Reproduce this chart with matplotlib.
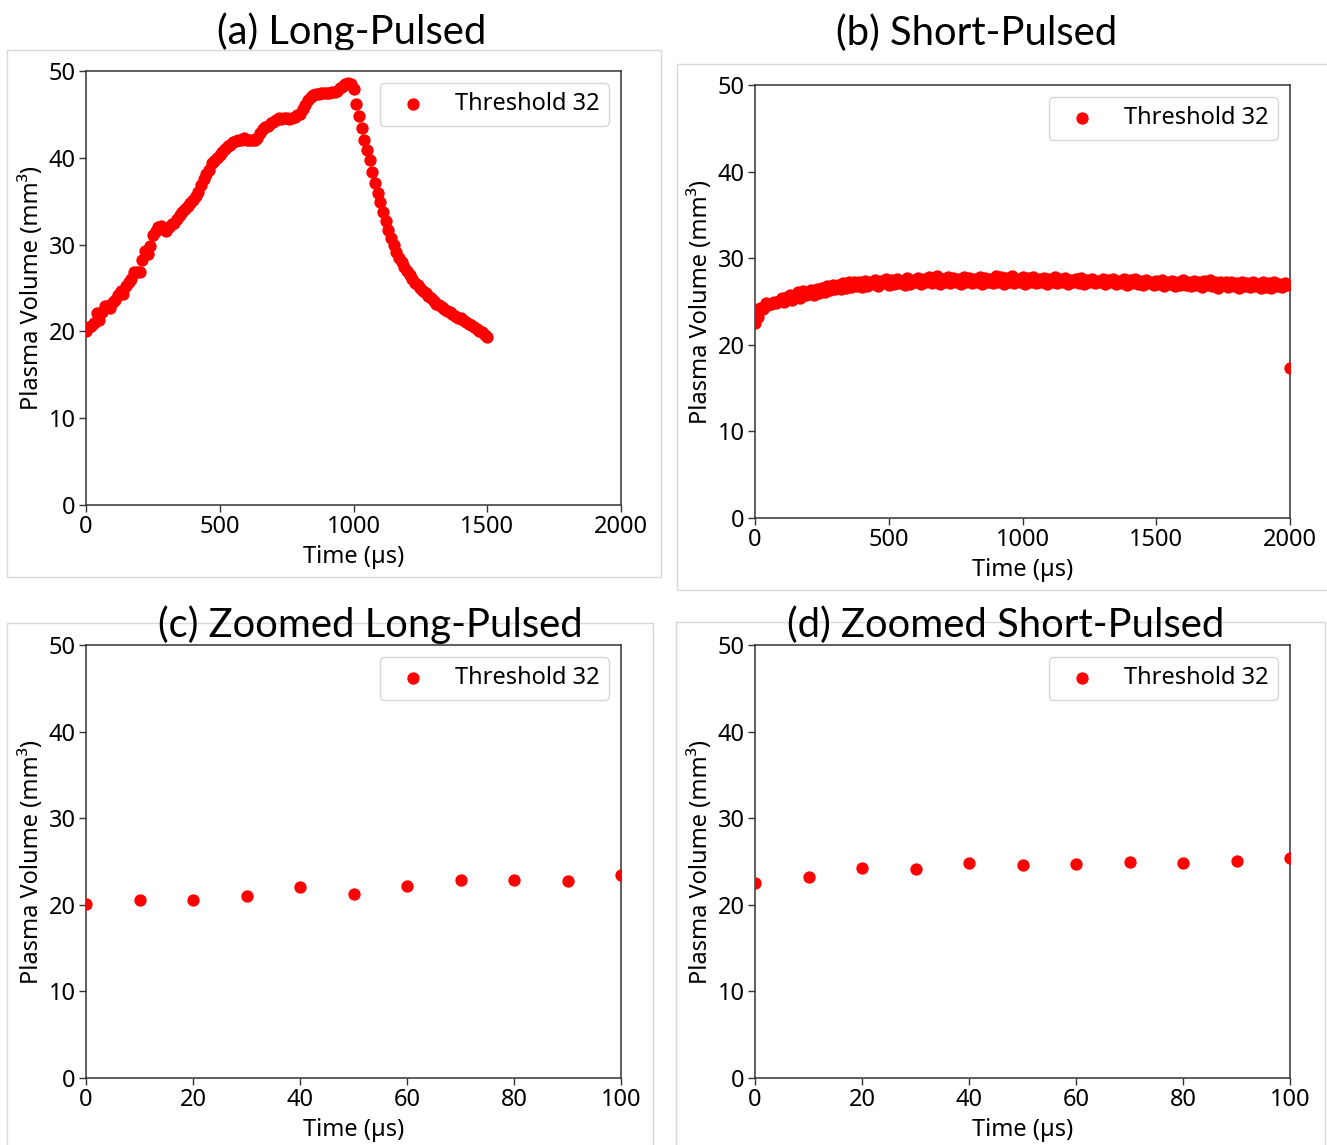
import matplotlib
matplotlib.use("Agg")
import matplotlib.pyplot as plt
from matplotlib.patches import Rectangle

plt.rcParams['font.family'] = ['Noto Sans', 'DejaVu Sans']

# Time axis (µs), 10 µs sampling
time_long = list(range(0, 1501, 10))
time_short = list(range(0, 2001, 10))

# Plasma volume (mm³), long-pulsed discharge
volume_long = [
    20.1, 20.5, 20.6, 21.0, 22.1, 21.3, 22.2, 22.9, 22.9, 22.7,
    23.4, 23.6, 24.2, 24.6, 24.3, 25.2, 25.7, 26.0, 26.9, 26.9,
    26.9, 28.2, 29.3, 28.9, 29.8, 31.1, 31.6, 32.0, 32.1, 31.8,
    31.6, 32.0, 32.4, 32.5, 33.0, 33.4, 33.8, 34.1, 34.5, 34.8,
    35.1, 35.6, 36.1, 36.9, 37.6, 38.1, 38.6, 39.4, 39.6, 40.0,
    40.3, 40.7, 41.0, 41.4, 41.5, 41.8, 41.9, 42.0, 42.1, 42.3,
    42.1, 42.0, 42.1, 42.0, 42.3, 42.8, 43.3, 43.5, 43.7, 44.0,
    44.1, 44.4, 44.6, 44.5, 44.6, 44.6, 44.5, 44.6, 44.7, 44.9,
    45.1, 45.6, 46.1, 46.7, 47.0, 47.2, 47.3, 47.3, 47.5, 47.5,
    47.5, 47.5, 47.6, 47.6, 47.7, 48.0, 48.3, 48.5, 48.6, 48.5,
    47.9, 46.2, 44.8, 43.4, 42.1, 40.9, 39.7, 38.4, 37.1, 36.0,
    34.9, 33.7, 32.7, 31.7, 30.8, 30.0, 29.2, 28.5, 28.0, 27.4,
    27.0, 26.5, 26.0, 25.6, 25.3, 25.0, 24.7, 24.4, 24.1, 23.8,
    23.5, 23.2, 23.0, 22.8, 22.6, 22.4, 22.2, 22.0, 21.8, 21.6,
    21.5, 21.3, 21.1, 20.9, 20.7, 20.5, 20.3, 20.1, 19.9, 19.6,
    19.3,
]

# Plasma volume (mm³), short-pulsed discharge
volume_short = [
    22.5, 23.2, 24.2, 24.1, 24.8, 24.6, 24.7, 24.9, 24.8, 25.1,
    25.4, 24.9, 25.5, 25.8, 25.2, 25.6, 26.1, 25.4, 26.2, 25.7,
    25.9, 26.3, 25.8, 26.5, 26.0, 26.6, 26.1, 26.8, 26.3, 26.9,
    26.4, 26.9, 26.5, 27.1, 26.6, 27.2, 26.7, 27.3, 26.8, 27.2,
    26.7, 27.4, 26.8, 27.3, 27.0, 27.5, 26.8, 27.4, 27.1, 27.6,
    26.9, 27.5, 27.0, 27.6, 27.1, 27.4, 26.9, 27.7, 27.0, 27.5,
    27.2, 27.7, 27.0, 27.6, 27.2, 27.8, 27.1, 27.5, 27.9, 27.0,
    27.6, 27.2, 27.8, 27.1, 27.7, 27.3, 27.6, 27.0, 27.8, 27.2,
    27.7, 27.1, 27.6, 27.3, 27.8, 27.0, 27.7, 27.2, 27.6, 27.1,
    27.9, 27.3, 27.8, 27.0, 27.7, 27.2, 27.9, 27.1, 27.6, 27.3,
    27.8, 27.0, 27.7, 27.2, 27.8, 27.1, 27.6, 27.3, 27.7, 27.0,
    27.6, 27.2, 27.8, 27.1, 27.6, 27.3, 27.7, 27.0, 27.5, 27.2,
    27.6, 27.1, 27.7, 27.0, 27.5, 27.2, 27.6, 27.1, 27.4, 27.3,
    27.6, 27.0, 27.5, 27.2, 27.6, 27.0, 27.4, 27.1, 27.6, 26.9,
    27.5, 27.1, 27.6, 27.0, 27.4, 26.9, 27.5, 27.1, 27.3, 26.9,
    27.4, 27.0, 27.5, 26.8, 27.3, 27.0, 27.4, 26.8, 27.3, 26.9,
    27.5, 26.9, 27.3, 26.8, 27.4, 26.9, 27.2, 26.7, 27.4, 26.9,
    27.5, 26.8, 27.2, 26.6, 27.3, 26.9, 27.2, 26.7, 27.3, 26.8,
    27.1, 26.6, 27.3, 26.8, 27.1, 26.7, 27.2, 26.8, 27.0, 26.6,
    27.2, 26.7, 27.1, 26.6, 27.2, 26.8, 27.0, 26.7, 27.1, 26.9,
    17.3,
]

panel_titles = ["(a) Long-Pulsed", "(b) Short-Pulsed",
                "(c) Zoomed Long-Pulsed", "(d) Zoomed Short-Pulsed"]
legend_label = "Threshold 32"
x_label = "Time (µs)"
y_label = "Plasma Volume (mm³)"

W, H = 1327, 1145
fig = plt.figure(figsize=(W / 100, H / 100), dpi=100)
fig.patch.set_facecolor('white')


def px_rect(left, top, width, height):
    return [left / W, 1 - (top + height) / H, width / W, height / H]


# Light frames around each panel
frames = [(7, 50, 654, 527), (677, 64, 660, 526),
          (7, 623, 646, 540), (676, 622, 649, 540)]
for (l, t, w, h) in frames:
    fig.patches.append(Rectangle((l / W, 1 - (t + h) / H), w / W, h / H,
                                 transform=fig.transFigure, facecolor='white',
                                 edgecolor='#d9d9d9', linewidth=1.0, zorder=1))

axes_px = [(86, 71, 535, 434), (755, 85, 535, 433),
           (86, 645, 535, 433), (755, 645, 535, 433)]
datasets = [(time_long, volume_long, 2000, [0, 500, 1000, 1500, 2000]),
            (time_short, volume_short, 2000, [0, 500, 1000, 1500, 2000]),
            (time_long, volume_long, 100, [0, 20, 40, 60, 80, 100]),
            (time_short, volume_short, 100, [0, 20, 40, 60, 80, 100])]

fs = 17
for (l, t, w, h), (tx, vy, xmax, xt) in zip(axes_px, datasets):
    ax = fig.add_axes(px_rect(l, t, w, h), zorder=2)
    ax.scatter(tx, vy, s=62, color='red', label=legend_label, zorder=3)
    ax.set_xlim(0, xmax)
    ax.set_ylim(0, 50)
    ax.set_xticks(xt)
    ax.set_yticks([0, 10, 20, 30, 40, 50])
    ax.tick_params(labelsize=fs, length=5, width=1.0, color='#333333', pad=2.5)
    for sp in ax.spines.values():
        sp.set_color('#333333')
        sp.set_linewidth(1.1)
    ax.set_xlabel(x_label, fontsize=fs, labelpad=4)
    ax.set_ylabel(y_label, fontsize=fs, labelpad=3)
    ax.legend(loc='upper right', fontsize=fs)

# Panel headings
title_specs = [(352, 44, 0.5), (977, 45, 0.5), (370, 637, 5), (1006, 637, 5)]
for txt, (cx, base, z) in zip(panel_titles, title_specs):
    fig.text(cx / W, 1 - base / H, txt, ha='center', va='baseline',
             fontsize=28.8, family=['Lato', 'DejaVu Sans'], zorder=z)

fig.savefig('out.png', dpi=100, facecolor='white')
